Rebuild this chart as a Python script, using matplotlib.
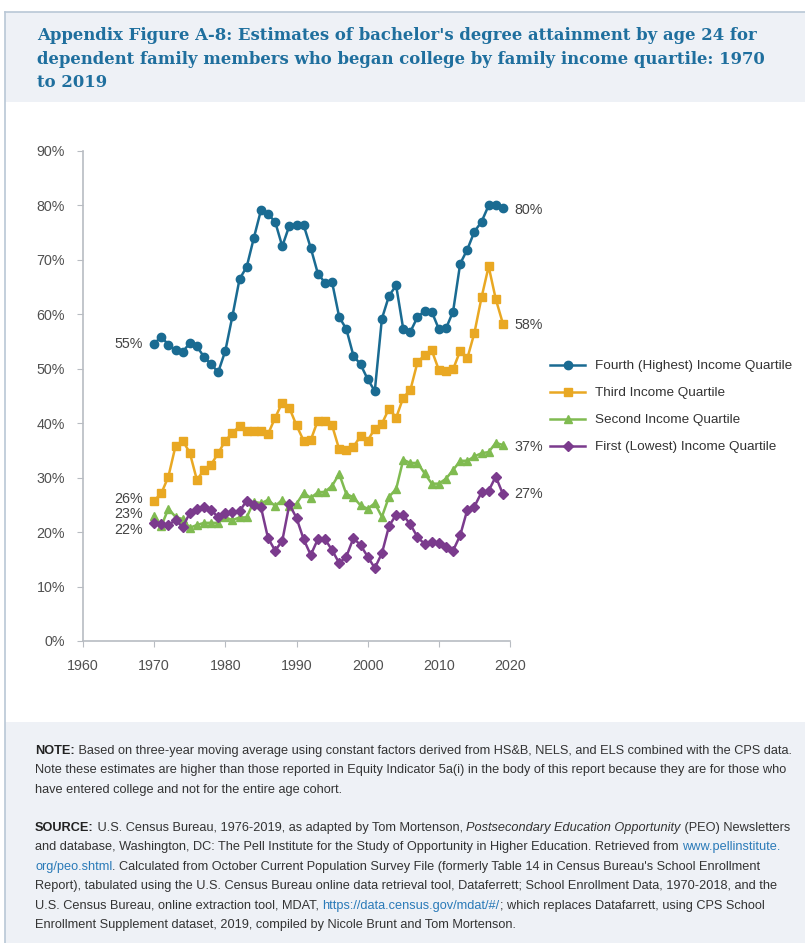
import matplotlib

matplotlib.use("Agg")

import matplotlib.pyplot as plt
from matplotlib.patches import Rectangle
from matplotlib.lines import Line2D

years = list(range(1970, 2020))

fourth = [54.6, 55.9, 54.4, 53.4, 53.1, 54.7, 54.1, 52.2, 50.8, 49.4,
          53.3, 59.7, 66.5, 68.7, 74.0, 79.1, 78.4, 77.0, 72.5, 76.3,
          76.5, 76.4, 72.2, 67.5, 65.8, 65.9, 59.5, 57.3, 52.4, 50.8,
          48.1, 45.9, 59.2, 63.4, 65.3, 57.3, 56.8, 59.5, 60.6, 60.5,
          57.3, 57.4, 60.5, 69.3, 71.9, 75.2, 77.0, 80.0, 80.0, 79.6]

third = [25.8, 27.1, 30.2, 35.8, 36.8, 34.6, 29.6, 31.4, 32.4, 34.5,
         36.8, 38.2, 39.5, 38.5, 38.5, 38.5, 38.0, 41.0, 43.8, 42.8,
         39.6, 36.8, 36.9, 40.5, 40.5, 39.6, 35.2, 35.0, 35.7, 37.6,
         36.8, 39.0, 39.9, 42.7, 41.0, 44.7, 46.1, 51.2, 52.5, 53.4,
         49.8, 49.6, 49.9, 53.3, 51.9, 56.6, 63.1, 68.8, 62.8, 58.3]

second = [23.0, 21.1, 24.3, 22.8, 22.4, 20.8, 21.3, 21.7, 21.7, 21.7,
          22.7, 22.2, 22.7, 22.7, 25.6, 25.3, 25.9, 24.8, 25.9, 24.8,
          25.2, 27.2, 26.3, 27.3, 27.4, 28.5, 30.7, 27.0, 26.4, 24.9,
          24.3, 25.3, 22.8, 26.5, 27.9, 33.3, 32.7, 32.7, 30.8, 28.9,
          28.9, 29.8, 31.4, 33.1, 33.1, 33.9, 34.5, 34.7, 36.4, 36.0]

first = [21.7, 21.4, 21.3, 22.2, 20.9, 23.5, 24.2, 24.7, 24.1, 22.7,
         23.6, 23.7, 23.8, 25.8, 24.9, 24.6, 18.9, 16.6, 18.4, 25.1,
         22.6, 18.7, 15.8, 18.7, 18.7, 16.7, 14.3, 15.5, 18.9, 17.6,
         15.5, 13.4, 16.1, 21.1, 23.2, 23.1, 21.4, 19.1, 17.8, 18.1,
         18.0, 17.3, 16.6, 19.4, 24.1, 24.7, 27.3, 27.6, 30.2, 27.0]

series_names = ["Fourth (Highest) Income Quartile", "Third Income Quartile",
                "Second Income Quartile", "First (Lowest) Income Quartile"]
series_values = [fourth, third, second, first]
start_labels = ["55%", "26%", "23%", "22%"]
start_label_y = [54.6, 26.1, 23.3, 20.4]
end_labels = ["80%", "58%", "37%", "27%"]
end_label_y = [79.2, 58.1, 35.7, 27.0]

colors = ["#1a6b92", "#e9a823", "#80bb51", "#7b3b8d"]
markers = ["o", "s", "^", "D"]
msizes = [6.0, 5.2, 5.8, 4.8]

SANS = ["Liberation Sans", "DejaVu Sans"]
BAND = "#eef1f6"
EDGE = "#b9c7d6"

W, H = 805, 943
fig = plt.figure(figsize=(W / 100, H / 100), dpi=100)


def fx(px):
    return px / W


def fy(py):
    return 1 - py / H


# frame and grey bands
fig.patches.append(Rectangle((fx(5), fy(102)), 1, fy(12) - fy(102),
                             transform=fig.transFigure, facecolor=BAND, edgecolor="none", zorder=0))
fig.patches.append(Rectangle((fx(5), 0), 1, fy(722), transform=fig.transFigure,
                             facecolor=BAND, edgecolor="none", zorder=0))
fig.lines.append(Line2D([fx(5), fx(5)], [0, fy(12)], transform=fig.transFigure, color=EDGE, lw=1.2))
fig.lines.append(Line2D([fx(5), 1], [fy(12), fy(12)], transform=fig.transFigure, color=EDGE, lw=1.2))

title = ("Appendix Figure A-8: Estimates of bachelor's degree attainment by age 24 for\n"
         "dependent family members who began college by family income quartile: 1970\n"
         "to 2019")
fig.text(fx(37), fy(27), title, ha="left", va="top", fontsize=11.9, fontweight="bold",
         family="DejaVu Serif", color="#1f6f9e", linespacing=1.5)

ax = fig.add_axes([fx(83), fy(641), fx(510) - fx(83), fy(151) - fy(641)])
ax.set_xlim(1960, 2020)
ax.set_ylim(0, 90)

for name, vals, c, m, ms in zip(series_names, series_values, colors, markers, msizes):
    ax.plot(years, vals, color=c, lw=1.8, marker=m, markersize=ms, label=name)

for s in ["top", "right"]:
    ax.spines[s].set_visible(False)
for s in ["left", "bottom"]:
    ax.spines[s].set_color("#b8bcc2")
    ax.spines[s].set_linewidth(1.2)

ax.set_yticks(range(0, 91, 10))
ax.set_yticklabels([f"{v}%" for v in range(0, 91, 10)])
ax.set_xticks(range(1960, 2021, 10))
ax.tick_params(axis="both", colors="#b8bcc2", labelcolor="#505050", labelsize=10.3, length=4)
ax.tick_params(axis="y", pad=9)
ax.tick_params(axis="x", pad=9)
for lab in ax.get_xticklabels() + ax.get_yticklabels():
    lab.set_family(SANS)

for lab, yv in zip(start_labels, start_label_y):
    ax.annotate(lab, (years[0], yv), xytext=(-8, 0), textcoords="offset points",
                ha="right", va="center", fontsize=10.3, family=SANS, color="#444444")
for lab, yv in zip(end_labels, end_label_y):
    ax.annotate(lab, (years[-1], yv), xytext=(8, 0), textcoords="offset points",
                ha="left", va="center", fontsize=10.3, family=SANS, color="#444444")

leg = fig.legend(loc="upper left", bbox_to_anchor=(fx(550), fy(360)), frameon=False,
                 borderpad=0, borderaxespad=0,
                 handlelength=2.6, labelspacing=1.08, handletextpad=0.75,
                 prop={"family": SANS, "size": 9.7})
for t in leg.get_texts():
    t.set_color("#333333")

# notes block, written piece by piece
fig.canvas.draw()
renderer = fig.canvas.get_renderer()

probe = fig.text(0, 0, "Note these estimates are higher than those reported in Equity Indicator 5a(i) "
                 "in the body of this report because they are for those who",
                 fontsize=10, family=SANS)
NOTE_SIZE = 10 * 753 / probe.get_window_extent(renderer).width
probe.remove()


def write_line(x, y, pieces):
    for txt, style in pieces:
        kw = dict(fontsize=NOTE_SIZE, family=SANS, color="#333333", va="center", ha="left")
        if style == "b":
            kw["fontweight"] = "bold"
            kw["color"] = "#222222"
        elif style == "i":
            kw["style"] = "italic"
        elif style == "l":
            kw["color"] = "#2a7ab8"
        t = fig.text(fx(x), fy(y), txt, **kw)
        x += t.get_window_extent(renderer).width


note_lines = [
    [("NOTE:", "b"), (" Based on three-year moving average using constant factors derived from HS&B, NELS, and ELS combined with the CPS data.", "")],
    [("Note these estimates are higher than those reported in Equity Indicator 5a(i) in the body of this report because they are for those who", "")],
    [("have entered college and not for the entire age cohort.", "")],
]
source_lines = [
    [("SOURCE:", "b"), (" U.S. Census Bureau, 1976-2019, as adapted by Tom Mortenson, ", ""),
     ("Postsecondary Education Opportunity", "i"), (" (PEO) Newsletters", "")],
    [("and database, Washington, DC: The Pell Institute for the Study of Opportunity in Higher Education. Retrieved from ", ""),
     ("www.pellinstitute.", "l")],
    [("org/peo.shtml", "l"), (". Calculated from October Current Population Survey File (formerly Table 14 in Census Bureau's School Enrollment", "")],
    [("Report), tabulated using the U.S. Census Bureau online data retrieval tool, Dataferrett; School Enrollment Data, 1970-2018, and the", "")],
    [("U.S. Census Bureau, online extraction tool, MDAT, ", ""), ("https://data.census.gov/mdat/#/", "l"),
     ("; which replaces Datafarrett, using CPS School", "")],
    [("Enrollment Supplement dataset, 2019, compiled by Nicole Brunt and Tom Mortenson.", "")],
]

for i, pieces in enumerate(note_lines):
    write_line(35, 751 + i * 19.4, pieces)
for i, pieces in enumerate(source_lines):
    write_line(35, 828 + i * 19.4, pieces)

fig.savefig("out.png", dpi=100)
